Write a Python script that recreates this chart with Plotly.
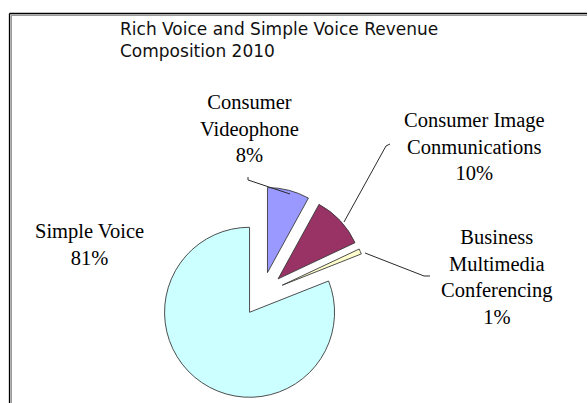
import plotly.graph_objects as go

# Revenue composition, 2010 (share of total, %)
categories = [
    "Consumer Videophone",
    "Consumer Image Conmunications",
    "Business Multimedia Conferencing",
    "Simple Voice",
]
label_text = [
    "Consumer<br>Videophone",
    "Consumer Image<br>Conmunications",
    "Business<br>Multimedia<br>Conferencing",
    "Simple Voice",
]
shares = [8, 10, 1, 81]
slice_colors = ["#9999FF", "#993366", "#FFFFCC", "#CCFFFF"]

title_text = "Rich Voice and Simple Voice Revenue<br>Composition 2010"

W, H = 588, 403


def px(x):
    return x / W


def py(y):
    return 1 - y / H


total = sum(shares)
pct_text = [f"{round(100 * v / total)}%" for v in shares]

fig = go.Figure(
    go.Pie(
        labels=categories,
        values=shares,
        sort=False,
        direction="clockwise",
        rotation=0,
        pull=[0.26] * len(shares),
        marker=dict(colors=slice_colors, line=dict(color="#3a3a3a", width=0.9)),
        textinfo="none",
        hoverinfo="label+percent",
        showlegend=False,
        domain=dict(x=[0.2634, 0.6277], y=[0.0047, 0.5363]),
    )
)

# label block centres (pixels) for each slice's callout
label_centres = [(249, 128), (474, 146), (497, 277), (89, 244)]
for txt, pct, (cx, cy) in zip(label_text, pct_text, label_centres):
    fig.add_annotation(
        x=px(cx), y=py(cy), xref="paper", yref="paper",
        text=f"{txt}<br>{pct}", showarrow=False,
        xanchor="center", yanchor="middle", align="center",
        font=dict(family="Liberation Serif", size=20.5, color="#000000"),
    )

# leader lines from callouts to slices
leaders = [
    [(248, 177), (248, 180), (290, 194)],
    [(390, 144), (386, 146), (344, 222)],
    [(365, 253), (424, 276), (430, 276)],
]
shapes = []
for pts in leaders:
    d = "M " + " L ".join(f"{px(x):.5f},{py(y):.5f}" for x, y in pts)
    shapes.append(dict(type="path", path=d, xref="paper", yref="paper",
                       line=dict(color="#2a2a2a", width=1)))

# chart-area frame: dark line with a grey shadow along top and left
shapes += [
    dict(type="line", xref="paper", yref="paper", x0=px(9.5), x1=px(587), y0=py(13.5), y1=py(13.5),
         line=dict(color="#000000", width=1.3)),
    dict(type="line", xref="paper", yref="paper", x0=px(11), x1=px(587), y0=py(15.2), y1=py(15.2),
         line=dict(color="#9a9a9a", width=1.6)),
    dict(type="line", xref="paper", yref="paper", x0=px(9.5), x1=px(9.5), y0=py(13.5), y1=0,
         line=dict(color="#000000", width=1.3)),
    dict(type="line", xref="paper", yref="paper", x0=px(11.2), x1=px(11.2), y0=py(15.2), y1=0,
         line=dict(color="#9a9a9a", width=1.6)),
]

fig.update_layout(
    width=W, height=H,
    margin=dict(l=0, r=0, t=0, b=0),
    paper_bgcolor="#FFFFFF",
    plot_bgcolor="#FFFFFF",
    shapes=shapes,
    title=dict(
        text=title_text,
        x=px(120), xref="container", xanchor="left",
        y=py(35), yref="container", yanchor="top",
        font=dict(family="DejaVu Sans", size=17, color="#111111"),
    ),
)

fig.write_html("out.html")
